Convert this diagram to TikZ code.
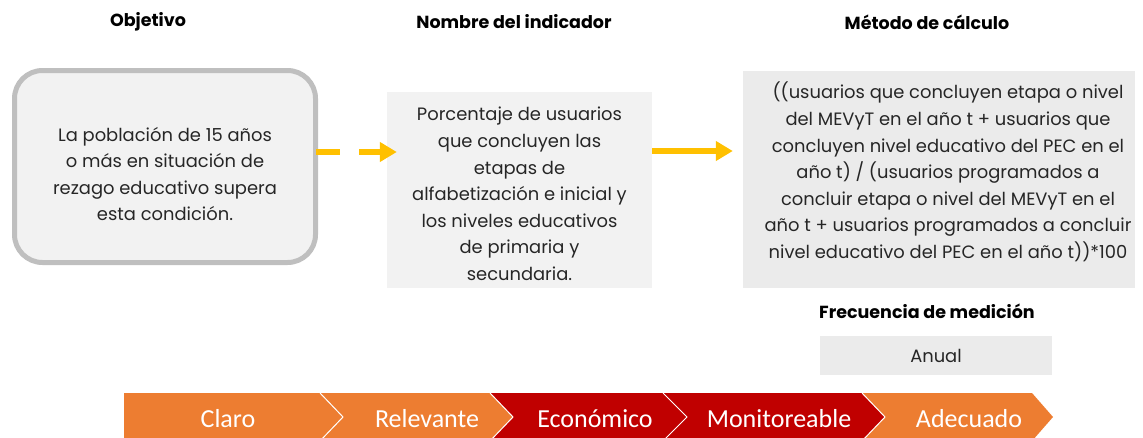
\documentclass[tikz,border=0pt]{standalone}
\usepackage{fontspec}
\setmainfont{Poppins}
\newfontfamily\calib{Carlito}
\usetikzlibrary{arrows.meta,calc}
\definecolor{boxfill}{HTML}{F2F2F2}
\definecolor{boxfillb}{HTML}{EBEBEB}
\definecolor{boxline}{HTML}{BFBFBF}
\definecolor{arrowc}{HTML}{FFC000}
\definecolor{orangec}{HTML}{ED7D31}
\definecolor{redc}{HTML}{C00000}
\definecolor{txt}{HTML}{262626}
\tikzset{
  title/.style={font=\bfseries\fontsize{17.5}{20}\selectfont, text=black},
  body/.style={font=\fontsize{17.9}{26.6}\selectfont, text=txt, align=center},
  flatbox/.style={rectangle, inner sep=0pt},
  arrowline/.style={draw=arrowc, line width=6pt, -{Triangle[length=17pt,width=19pt]}},
  dasharrow/.style={arrowline, dash pattern=on 24pt off 19pt},
  chev/.style={draw=white, line width=1pt},
  chevtext/.style={font=\calib\fontsize{26}{30}\selectfont, text=white}
}
\begin{document}
\begin{tikzpicture}[x=1pt,y=-1pt]
\useasboundingbox (0,0) rectangle (1143,437);
\clip (0,0) rectangle (1143,437);

% titles
\node[title] (t1) at (148,22) {Objetivo};
\node[title] (t2) at (514,22) {Nombre del indicador};
\node[title] (t3) at (927,22) {Método de cálculo};
\node[title] (t4) at (927,311) {Frecuencia de medición};

% boxes
\node[flatbox, draw=boxline, fill=boxfill, line width=5pt, rounded corners=28pt,
      minimum width=301pt, minimum height=192pt] (obj) at (165,166.5) {};
\node[body] (objtxt) at (165,174) {La población de 15 años\\o más en situación de\\rezago educativo supera\\esta condición.};

\node[flatbox, fill=boxfill, minimum width=265pt, minimum height=196pt] (ind) at (519.5,190) {};
\node[body] (indtxt) at (519.5,194) {Porcentaje de usuarios\\que concluyen las\\etapas de\\alfabetización e inicial y\\los niveles educativos\\de primaria y\\secundaria.};

\node[flatbox, fill=boxfillb, minimum width=392pt, minimum height=217pt] (met) at (939,179.5) {};
\node[body] (mettxt) at (948,172) {((usuarios que concluyen etapa o nivel\\del MEVyT en el año t + usuarios que\\concluyen nivel educativo del PEC en el\\año t) / (usuarios programados a\\concluir etapa o nivel del MEVyT en el\\año t + usuarios programados a concluir\\nivel educativo del PEC en el año t))*100};

\node[flatbox, fill=boxfillb, minimum width=232pt, minimum height=39pt, body] (anual) at (936,355.5) {Anual};

% connectors
\draw[dasharrow] ($(obj.east)+(-2,-14.5)$) -- ($(ind.west)+(10,-38)$);
\draw[arrowline] ($(ind.east)+(0,-39)$) -- ($(met.west)+(-10,-28.5)$);

% chevrons
\fill[orangec] (124,393) -- (320,393) -- (343,417) -- (320,441) -- (124,441) -- cycle;
\fill[orangec] (320,393) -- (490,393) -- (513,417) -- (490,441) -- (320,441) -- (343,417) -- cycle;
\fill[redc] (490,393) -- (663,393) -- (687,417) -- (663,441) -- (490,441) -- (513,417) -- cycle;
\fill[redc] (663,393) -- (862,393) -- (885,417) -- (862,441) -- (663,441) -- (687,417) -- cycle;
\fill[orangec] (862,393) -- (1032,393) -- (1053,417) -- (1032,441) -- (862,441) -- (885,417) -- cycle;
\draw[chev] (320,393) -- (343,417) -- (320,441);
\draw[chev] (490,393) -- (513,417) -- (490,441);
\draw[chev] (663,393) -- (687,417) -- (663,441);
\draw[chev] (862,393) -- (885,417) -- (862,441);

\node[chevtext] (c1) at (228,419) {Claro};
\node[chevtext] (c2) at (427,419) {Relevante};
\node[chevtext] (c3) at (595,419) {Económico};
\node[chevtext] (c4) at (779,419) {Monitoreable};
\node[chevtext] (c5) at (969,419) {Adecuado};
\end{tikzpicture}
\end{document}
